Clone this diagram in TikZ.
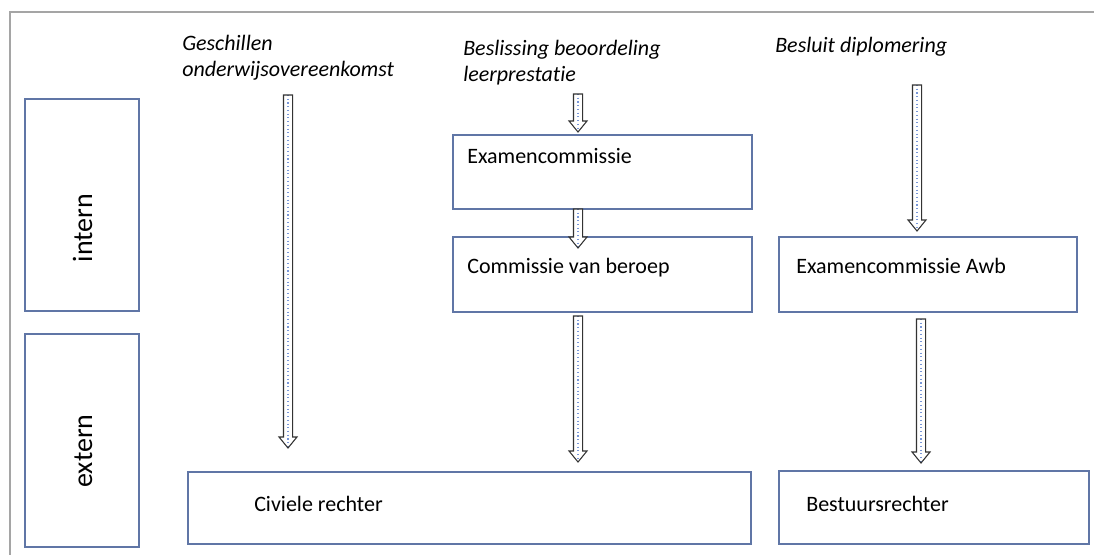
\documentclass[tikz,border=0pt]{standalone}
\usepackage{fontspec}
\setmainfont{Carlito}[Ligatures=NoCommon]
\usepackage{tikz}
\usetikzlibrary{positioning, calc}
\definecolor{boxblue}{RGB}{96,118,166}
\definecolor{framegray}{RGB}{165,165,165}
\definecolor{dotblue}{RGB}{120,150,215}
\tikzstyle{box} = [rectangle, draw=boxblue, line width=1.1pt, anchor=north west, inner sep=0pt, outer sep=0pt]
\tikzstyle{boxtext} = [anchor=base west, inner sep=0pt, font=\fontsize{16.5}{20.3}\selectfont]
\tikzstyle{heading} = [anchor=base west, inner sep=0pt, align=left, font=\fontsize{16.5}{20}\selectfont\itshape]
\tikzstyle{side} = [anchor=base, inner sep=0pt, rotate=90, font=\fontsize{21}{25}\selectfont]
\tikzset{
	blockarrow/.style = {draw=black!80, line width=0.8pt, fill=white,
		to path={let \p1=(\tikztostart), \p2=(\tikztotarget) in
			(\x1-3.4pt,\y1) -- (\x1+3.4pt,\y1) -- (\x1+3.4pt,\y2+8.25pt)
			-- (\x1+6.75pt,\y2+8.25pt) -- (\x2,\y2) -- (\x1-6.75pt,\y2+8.25pt)
			-- (\x1-3.4pt,\y2+8.25pt) -- cycle},
		path picture={\draw [dotblue, dotted, line width=0.8pt]
			(path picture bounding box.north) -- (path picture bounding box.south);
		},% end of path picture
	}
}

\begin{document}
\begin{tikzpicture}[x=0.75pt, y=-0.75pt]
\useasboundingbox (0,0) rectangle (1094,555);
\draw [framegray, line width=0.9pt] (10,555) -- (10,12) -- (1094,12);
%----------------------------------------------------------------------------
% Placement of boxes
\node (intern) [box, minimum width=85.5pt, minimum height=159pt] at (25,99) {};
\node (extern) [box, minimum width=85.5pt, minimum height=159.75pt, below=17.25pt of intern] {};

\node (examen) [box, minimum width=224.25pt, minimum height=55.5pt] at (453,135) {};
\node (beroep) [box, minimum width=224.25pt, minimum height=56.25pt, below=21pt of examen] {};
\node (awb) [box, minimum width=223.5pt, minimum height=56.25pt, right=20.25pt of beroep] {};

\node (civiel) [box, minimum width=422.25pt, minimum height=54pt] at (188,472) {};
\node (bestuur) [box, minimum width=232.5pt, minimum height=54.75pt, below=119.25pt of awb.south west, anchor=north west] {};

%----------------------------------------------------------------------------
% Texts
\node (internText) [side] at (92,228) {intern};
\node (externText) [side] at (92,451) {extern};

\node (examenText) [boxtext] at ([shift={(14,29)}]examen.north west) {Examencommissie};
\node (beroepText) [boxtext] at ([shift={(14,37)}]beroep.north west) {Commissie van beroep};
\node (awbText) [boxtext] at ([shift={(17,37)}]awb.north west) {Examencommissie Awb};
\node (civielText) [boxtext] at ([shift={(66,39)}]civiel.north west) {Civiele rechter};
\node (bestuurText) [boxtext] at ([shift={(27,40)}]bestuur.north west) {Bestuursrechter};

% base of a two line heading is the baseline of its last line
\node (geschil) [heading] at (182,77) {Geschillen\\onderwijsovereenkomst};
\node (beslissing) [heading] at (463,82) {Beslissing beoordeling\\leerprestatie};
\node (besluit) [heading] at (775,53) {Besluit diplomering};

%----------------------------------------------------------------------------
% Arrow end points
\coordinate (geschilTop) at (288,95);
\coordinate (geschilTip) at (288,448);
\coordinate (beslissingTop) at (578,94);
\coordinate (examenTip) at (578,132);
\coordinate (examenBottom) at (578,209);
\coordinate (beroepTip) at (578,248);
\coordinate (beroepBottom) at (578,316);
\coordinate (civielTip) at (578,462);
\coordinate (besluitTop) at (917,85);
\coordinate (awbTip) at (917,231);
\coordinate (awbBottom) at (921,319);
\coordinate (bestuurTip) at (921,463);

%----------------------------------------------------------------------------
% Drawing of block arrows
\draw [blockarrow] (geschilTop) to (geschilTip);
\draw [blockarrow] (beslissingTop) to (examenTip);
\draw [blockarrow] (examenBottom) to (beroepTip);
\draw [blockarrow] (beroepBottom) to (civielTip);
\draw [blockarrow] (besluitTop) to (awbTip);
\draw [blockarrow] (awbBottom) to (bestuurTip);
\end{tikzpicture}
\end{document}
